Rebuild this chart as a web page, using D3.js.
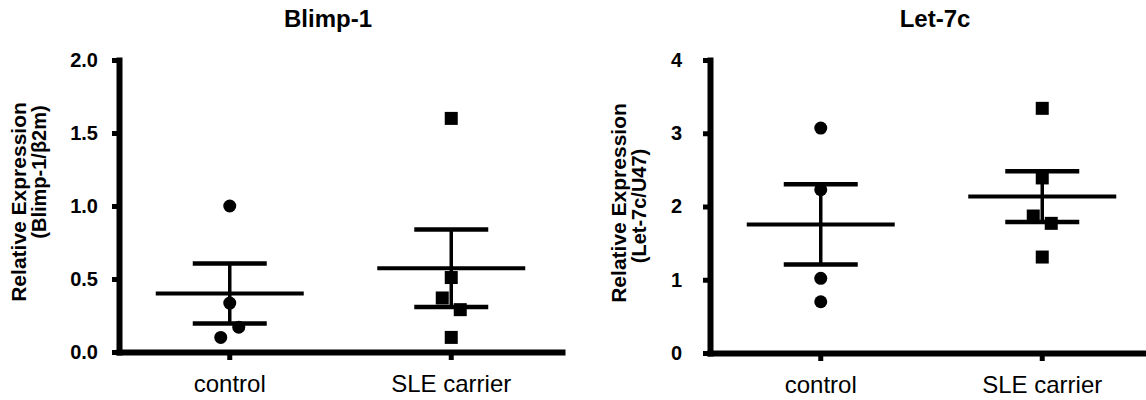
<!DOCTYPE html>
<html>
<head>
<meta charset="utf-8">
<script src="https://cdn.jsdelivr.net/npm/d3@7"></script>
<style>
  body { margin: 0; background: #fff; }
  svg { font-family: Arial, "Liberation Sans", sans-serif; }
  .axis .domain { stroke: #000; stroke-width: 6px; stroke-linecap: square; }
  .axis .tick line { stroke: #000; stroke-width: 5px; }
</style>
</head>
<body>
<script>
// Data
const categories = ["control", "SLE carrier"];
const blimpControl = [1.0, 0.335, 0.10, 0.17];
const blimpSle = [1.60, 0.51, 0.37, 0.29, 0.10];
const blimpTicks = [0, 0.5, 1.0, 1.5, 2.0];
const let7cControl = [3.07, 2.23, 1.02, 0.70];
const let7cSle = [3.34, 2.39, 1.87, 1.77, 1.31];
const let7cTicks = [0, 1, 2, 3, 4];

const svg = d3.select("body")
    .append("svg")
    .attr("width", 1146)
    .attr("height", 400);

const panels = [
    {
        title: "Blimp-1", label: ["Relative Expression", "(Blimp-1/β2m)"],
        groups: [blimpControl, blimpSle], ticks: blimpTicks, fmt: d3.format(".1f"),
        left: 119, bottom: 352, titleX: 328, tickPad: 14,
        labelX: [-93, -73], labelY: [202, 172]
    },
    {
        title: "Let-7c", label: ["Relative Expression", "(Let-7c/U47)"],
        groups: [let7cControl, let7cSle], ticks: let7cTicks, fmt: d3.format("d"),
        left: 710, bottom: 353, titleX: 935, tickPad: 21,
        labelX: [-84, -64], labelY: [203, 206]
    }
];

// GraphPad-like spreading of points that would overlap
function spread(values, y) {
    const px = values.map(v => y(v));
    const order = d3.range(values.length).sort((a, b) => px[a] - px[b]);
    const offsets = values.map(() => 0);
    let cluster = [order[0]];
    const flush = () => {
        cluster.sort((a, b) => a - b);
        cluster.forEach((idx, k) => offsets[idx] = (k - (cluster.length - 1) / 2) * 18);
    };
    for (let i = 1; i < order.length; i++) {
        if (px[order[i]] - px[order[i - 1]] < 14) cluster.push(order[i]);
        else { flush(); cluster = [order[i]]; }
    }
    flush();
    return offsets;
}

panels.forEach(p => {
    const g = svg.append("g");

    const y = d3.scaleLinear()
        .domain([0, d3.max(p.ticks)])
        .range([p.bottom, 60]);
    const x = d3.scaleBand()
        .domain(categories)
        .range([p.left, p.left + 443]);

    // x axis
    const xAxis = g.append("g")
        .attr("class", "axis")
        .attr("transform", `translate(0,${p.bottom})`)
        .call(d3.axisBottom(x).tickSize(8).tickSizeOuter(0).tickPadding(15));
    xAxis.selectAll(".tick text")
        .attr("font-size", 24)
        .attr("font-family", "Arial, 'Liberation Sans', sans-serif")
        .attr("fill", "#000");

    // y axis
    const yAxis = g.append("g")
        .attr("class", "axis")
        .attr("transform", `translate(${p.left},0)`)
        .call(d3.axisLeft(y).tickValues(p.ticks).tickFormat(p.fmt)
            .tickSize(7).tickSizeOuter(0).tickPadding(p.tickPad));
    yAxis.selectAll(".tick text")
        .attr("font-size", 20)
        .attr("font-weight", "bold")
        .attr("font-family", "Arial, 'Liberation Sans', sans-serif")
        .attr("fill", "#000");

    // title
    g.append("text")
        .attr("x", p.titleX)
        .attr("y", 27)
        .attr("text-anchor", "middle")
        .attr("font-size", 24)
        .attr("font-weight", "bold")
        .text(p.title);

    // y label (two lines)
    p.label.forEach((line, i) => {
        g.append("text")
            .attr("transform", `translate(${p.left + p.labelX[i]},${p.labelY[i]}) rotate(-90)`)
            .attr("text-anchor", "middle")
            .attr("font-size", i === 0 ? 21 : 20)
            .attr("font-weight", "bold")
            .text(line);
    });

    // groups: points, mean and SEM
    p.groups.forEach((vals, gi) => {
        const cx = x(categories[gi]) + x.bandwidth() / 2;
        const mean = d3.mean(vals);
        const sem = d3.deviation(vals) / Math.sqrt(vals.length);
        const offsets = spread(vals, y);

        if (gi === 0) {
            g.selectAll(null)
                .data(vals)
                .enter()
                .append("circle")
                .attr("cx", (d, i) => cx + offsets[i])
                .attr("cy", d => y(d))
                .attr("r", 6.5)
                .attr("fill", "#000");
        } else {
            g.selectAll(null)
                .data(vals)
                .enter()
                .append("rect")
                .attr("x", (d, i) => cx + offsets[i] - 6.5)
                .attr("y", d => y(d) - 6.5)
                .attr("width", 13)
                .attr("height", 13)
                .attr("fill", "#000");
        }

        // vertical SEM line
        g.append("line")
            .attr("x1", cx).attr("x2", cx)
            .attr("y1", y(mean - sem)).attr("y2", y(mean + sem))
            .style("stroke", "#000").style("stroke-width", "3.5px");

        // SEM caps
        [mean - sem, mean + sem].forEach(v => {
            g.append("line")
                .attr("x1", cx - 37).attr("x2", cx + 37)
                .attr("y1", y(v)).attr("y2", y(v))
                .style("stroke", "#000").style("stroke-width", "4.5px");
        });

        // mean line
        g.append("line")
            .attr("x1", cx - 74).attr("x2", cx + 74)
            .attr("y1", y(mean)).attr("y2", y(mean))
            .style("stroke", "#000").style("stroke-width", "4px");
    });
});
</script>
</body>
</html>
